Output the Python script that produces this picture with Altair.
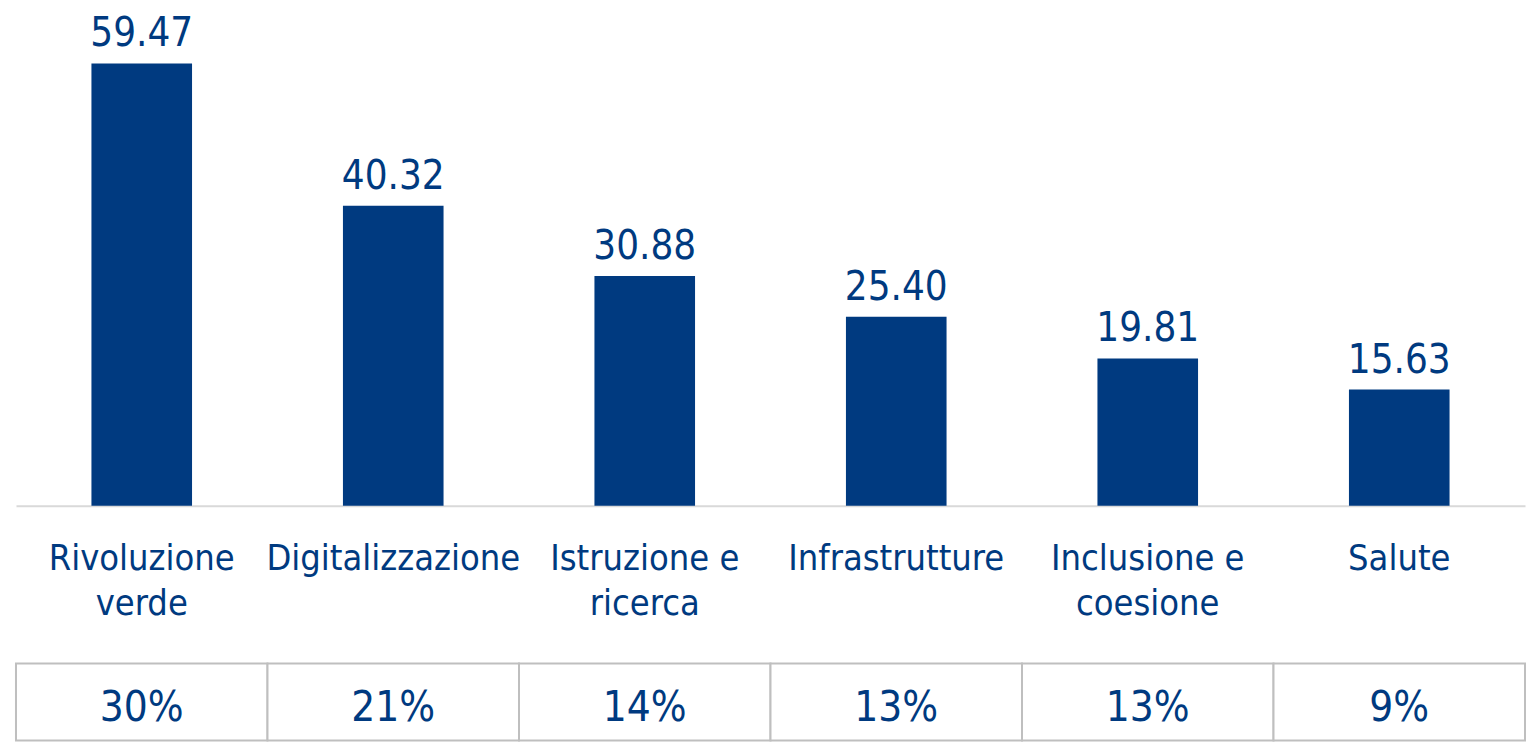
import altair as alt
import pandas as pd

categories = ["Rivoluzione\nverde", "Digitalizzazione", "Istruzione e\nricerca",
              "Infrastrutture", "Inclusione e\ncoesione", "Salute"]
values = [59.47, 40.32, 30.88, 25.40, 19.81, 15.63]
shares = [30, 21, 14, 13, 13, 9]

BLUE = "#003A80"
FONT = "DejaVu Sans Condensed, DejaVu Sans, sans-serif"

df = pd.DataFrame({"cat": categories, "value": values, "share": shares})
df["vlabel"] = [f"{v:.2f}" for v in values]
df["slabel"] = [f"{s}%" for s in shares]

W = 1511

x_top = alt.X("cat:N", sort=None, title=None,
              scale=alt.Scale(paddingInner=0.6, paddingOuter=0.3),
              axis=alt.Axis(ticks=False, grid=False, domainColor="#D9D9D9", domainWidth=2,
                            labelFont=FONT, labelFontSize=36, labelColor=BLUE,
                            labelPadding=36, labelLineHeight=45, labelLimit=0, labelAngle=0,
                            labelExpr="split(datum.label, '\\n')"))
y_top = alt.Y("value:Q", scale=alt.Scale(domain=[0, 66.85], nice=False), axis=None)

base = alt.Chart(df).encode(x=x_top, y=y_top)
bars = base.mark_bar(color=BLUE)
vals = base.mark_text(font=FONT, fontSize=40, color=BLUE, baseline="alphabetic", dy=-17).encode(
    text="vlabel:N")
top = (bars + vals).properties(width=W, height=498)

x_tab = alt.X("cat:N", sort=None, title=None,
              scale=alt.Scale(paddingInner=0, paddingOuter=0), axis=None)
tbase = alt.Chart(df).encode(x=x_tab)
cells = tbase.mark_rect(fill="white", stroke="#BFBFBF", strokeWidth=2).encode(
    y=alt.value(0), y2=alt.value(77))
ptxt = tbase.mark_text(font=FONT, fontSize=42, color=BLUE, baseline="alphabetic").encode(
    y=alt.value(57), text="slabel:N")
table = (cells + ptxt).properties(width=W, height=77)

chart = alt.vconcat(top, table, spacing=158, bounds="flush").properties(
    padding={"left": 7, "top": 0, "right": 1, "bottom": 1}
).configure_view(strokeWidth=0)

chart.save("out.html", embed_options={"renderer": "svg", "actions": False})
